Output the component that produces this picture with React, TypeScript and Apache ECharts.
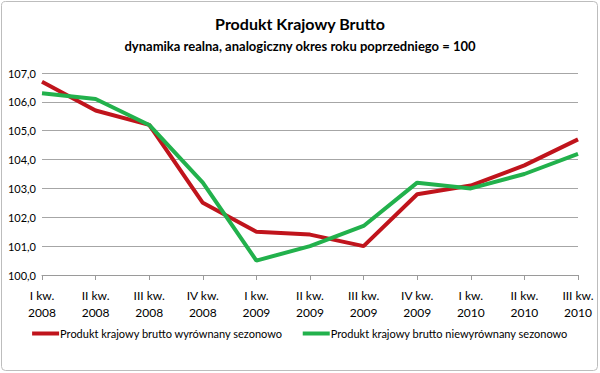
import React, { useEffect, useRef } from "react";
import * as echarts from "echarts";

const categories = [
  "I kw.\n2008", "II kw.\n2008", "III kw.\n2008", "IV kw.\n2008",
  "I kw.\n2009", "II kw.\n2009", "III kw.\n2009", "IV kw.\n2009",
  "I kw.\n2010", "II kw.\n2010", "III kw.\n2010",
];
const seasonallyAdjusted = [106.7, 105.7, 105.2, 102.5, 101.5, 101.4, 101.0, 102.8, 103.1, 103.8, 104.7];
const notAdjusted = [106.3, 106.1, 105.2, 103.2, 100.5, 101.0, 101.7, 103.2, 103.0, 103.5, 104.2];
const seriesNames = [
  "Produkt krajowy brutto wyrównany sezonowo",
  "Produkt krajowy brutto niewyrównany sezonowo",
];
const title = "Produkt Krajowy Brutto";
const subtitle = "dynamika realna, analogiczny okres roku poprzedniego = 100";

const FONT = "Lato, 'Open Sans', sans-serif";

export default function App() {
  const ref = useRef<HTMLDivElement>(null);
  useEffect(() => {
    if (!ref.current) return;
    const chart = echarts.init(ref.current, null, { renderer: "svg" });
    chart.setOption({
      animation: false,
      backgroundColor: "#ffffff",
      textStyle: { fontFamily: FONT },
      title: {
        text: title,
        subtext: subtitle,
        left: "center",
        top: 10,
        itemGap: 8,
        textStyle: { fontFamily: FONT, fontSize: 16, fontWeight: "bold", color: "#000" },
        subtextStyle: { fontFamily: FONT, fontSize: 13, fontWeight: "bold", color: "#000" },
      },
      graphic: [
        {
          type: "rect",
          shape: { x: 1.5, y: 1.5, width: 596, height: 369, r: 4 },
          style: { fill: "none", stroke: "#bdbdbd", lineWidth: 1 },
          silent: true,
        },
      ],
      legend: {
        orient: "horizontal",
        width: 580,
        bottom: 29,
        left: "center",
        icon: "rect",
        itemWidth: 27,
        itemHeight: 4,
        itemGap: 20,
        textStyle: { fontFamily: FONT, fontSize: 11, color: "#000", padding: [0, 0, 0, -4] },
        data: seriesNames,
      },
      grid: { left: 42, right: 22, top: 73, bottom: 98 },
      xAxis: {
        type: "category",
        data: categories,
        boundaryGap: false,
        axisLine: { lineStyle: { color: "#9a9a9a" } },
        axisTick: { alignWithLabel: true, length: 5, lineStyle: { color: "#9a9a9a" } },
        axisLabel: { color: "#000", fontSize: 12, lineHeight: 17, margin: 12, fontFamily: FONT, interval: 0 },
      },
      yAxis: {
        type: "value",
        min: 100,
        max: 107,
        interval: 1,
        axisLine: { show: false },
        axisTick: { show: false },
        splitLine: { lineStyle: { color: "#a6a6a6", width: 1 } },
        axisLabel: {
          color: "#000",
          fontSize: 11,
          margin: 6,
          fontFamily: FONT,
          formatter: (v: number) => v.toFixed(1).replace(".", ","),
        },
      },
      series: [
        {
          name: seriesNames[0],
          type: "line",
          data: seasonallyAdjusted,
          showSymbol: false,
          symbol: "none",
          lineStyle: { color: "#c0141c", width: 4 },
          itemStyle: { color: "#c0141c" },
        },
        {
          name: seriesNames[1],
          type: "line",
          data: notAdjusted,
          showSymbol: false,
          symbol: "none",
          lineStyle: { color: "#22b14c", width: 4 },
          itemStyle: { color: "#22b14c" },
        },
      ],
    });
    return () => chart.dispose();
  }, []);
  return (
    <div
      ref={ref}
      style={{ position: "fixed", left: 0, top: 0, width: 600, height: 373 }}
    />
  );
}
